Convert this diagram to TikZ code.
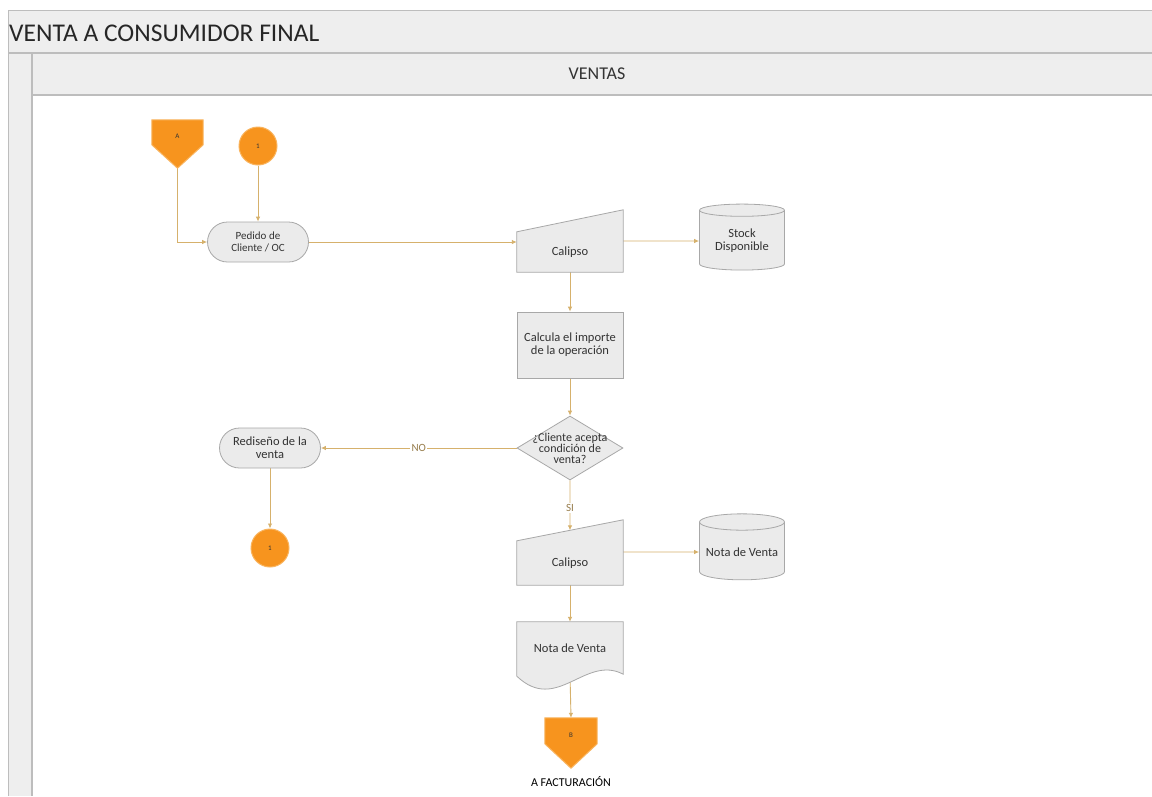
\documentclass[tikz,border=0pt]{standalone}
\usepackage{fontspec}
\setmainfont{Carlito}
\usetikzlibrary{shapes.misc,shapes.geometric,arrows.meta,calc}

\definecolor{bandfill}{HTML}{EEEEEE}
\definecolor{bandline}{HTML}{BDBDBD}
\definecolor{boxfill}{HTML}{EBEBEB}
\definecolor{boxline}{HTML}{A8A8A8}
\definecolor{flow}{HTML}{D6B16C}
\definecolor{conn}{HTML}{F7941E}
\definecolor{connline}{HTML}{F9B45E}
\definecolor{ink}{HTML}{333333}

\pgfdeclarelayer{backdrop}
\pgfdeclarelayer{edges}
\pgfdeclarelayer{bodies}
\pgfsetlayers{backdrop,edges,bodies,main}

\tikzset{
  x=1pt, y=-1pt,
  nodefont/.style={font=\fontsize{12.5}{13}\selectfont, text=ink},
  flowline/.style={draw=flow, line width=0.9pt, -{Latex[length=5pt,width=4.5pt]}},
  bodystyle/.style={draw=boxline, fill=boxfill, line width=0.8pt},
  terminal/.style={rounded rectangle, bodystyle, nodefont, align=center,
    minimum width=105pt, minimum height=40pt, inner sep=2pt},
  procbox/.style={rectangle, bodystyle, nodefont, align=center,
    minimum width=106pt, minimum height=66pt, inner sep=1pt},
  decision/.style={diamond, bodystyle, minimum width=106pt, minimum height=64pt,
    inner sep=0pt},
  store/.style={cylinder, shape border rotate=90, aspect=0.22, bodystyle, nodefont,
    align=center, minimum width=85pt, minimum height=66pt, inner sep=1pt},
  slot/.style={rectangle, draw=none, nodefont, align=center, inner sep=0pt},
  connector/.style={circle, fill=conn, draw=connline, line width=1pt,
    minimum size=38pt, inner sep=0pt, font=\fontsize{7}{8}\selectfont, text=ink},
  pagebody/.style={fill=conn, draw=connline, line width=1pt},
  edgelabel/.style={fill=white, inner sep=1.5pt, font=\fontsize{11}{11}\selectfont, text=flow!70!black}
}

\begin{document}
\begin{tikzpicture}
\useasboundingbox (0,0) rectangle (1152,796);

% pool title band, lane header and left strip
\begin{pgfonlayer}{backdrop}
\fill[white] (0,0) rectangle (1152,796);
\fill[bandfill] (8,10) rectangle (1152,52);
\fill[bandfill] (8,52) rectangle (32,796);
\fill[bandfill] (32,52) rectangle (1152,95);
\draw[bandline, line width=1pt] (8,10) -- (1152,10);
\draw[bandline, line width=2pt] (8,53) -- (1152,53);
\draw[bandline, line width=2pt] (32,95) -- (1152,95);
\draw[bandline, line width=1pt] (8,10) -- (8,796);
\draw[bandline, line width=1.5pt] (32,53) -- (32,796);
\end{pgfonlayer}
\node[anchor=west, inner sep=0pt, font=\fontsize{25.5}{26}\selectfont, text=black!85]
  (title) at (9,33) {VENTA A CONSUMIDOR FINAL};
\node[font=\fontsize{18}{19}\selectfont, text=black!80] (lane) at (597,74) {VENTAS};

% off-page connector at the top
\node[slot, minimum width=51pt, minimum height=48pt] (offin) at (177.5,144) {};
\begin{pgfonlayer}{bodies}
\path[pagebody] (offin.north west) -- (offin.north east) -- ($(offin.north east)+(0,25)$)
  -- (offin.south) -- ($(offin.north west)+(0,25)$) -- cycle;
\end{pgfonlayer}
\node[font=\fontsize{7}{8}\selectfont, text=ink] at ($(offin.center)+(0,-8)$) {A};

\node[connector] (c1) at (258,146) {1};

\node[terminal, font=\fontsize{11}{12}\selectfont] (pedido) at (258,242) {Pedido de\\Cliente / OC};

% manual input: Calipso
\node[slot, minimum width=106pt, minimum height=40pt] (cal1) at (570,252) {Calipso};
\begin{pgfonlayer}{bodies}
\path[bodystyle] (cal1.south west) -- (cal1.south east) -- ($(cal1.north east)+(0,-22)$)
  -- (cal1.north west) -- cycle;
\end{pgfonlayer}

\node[store] (stock) at (742,241) {Stock\\Disponible};

\node[procbox] (calc) at (570,345) {Calcula el importe\\de la operación};

\node[decision] (dec) at (570,448) {};
\node[align=center, font=\fontsize{12}{11}\selectfont, text=ink] at (dec.center) {¿Cliente acepta\\condición de\\venta?};

\node[terminal] (redis) at (270,448) {Rediseño de la\\venta};
\node[connector] (c2) at (270,548) {1};

% manual input: Calipso (second)
\node[slot, minimum width=106pt, minimum height=44pt] (cal2) at (570,563) {Calipso};
\begin{pgfonlayer}{bodies}
\path[bodystyle] (cal2.south west) -- (cal2.south east) -- ($(cal2.north east)+(0,-21)$)
  -- (cal2.north west) -- cycle;
\end{pgfonlayer}
\coordinate (cal2top) at ($(cal2.north west)!0.5!(cal2.north east)+(0,-10.5)$);

\node[store] (nota) at (742,552) {Nota de Venta};

% document: Nota de Venta
\node[slot, minimum width=106pt, minimum height=52pt] (doc) at (570,648) {Nota de Venta};
\begin{pgfonlayer}{bodies}
\path[bodystyle] (doc.north west) -- (doc.north east) -- ($(doc.south east)+(0,0)$)
  .. controls ($(doc.south east)+(-38,-20)$) and ($(doc.south west)+(40,40)$) .. ($(doc.south west)+(0,2)$)
  -- cycle;
\end{pgfonlayer}

% off-page connector at the bottom
\node[slot, minimum width=52pt, minimum height=50pt] (offout) at (571,743) {};
\begin{pgfonlayer}{bodies}
\path[pagebody] (offout.north west) -- (offout.north east) -- ($(offout.north east)+(0,26)$)
  -- (offout.south) -- ($(offout.north west)+(0,26)$) -- cycle;
\end{pgfonlayer}
\node[font=\fontsize{7}{8}\selectfont, text=ink] at ($(offout.center)+(0,-8)$) {B};
\node[font=\fontsize{12}{12}\selectfont, text=black] (fact) at (571,782) {A FACTURACIÓN};

% flow lines
\begin{pgfonlayer}{edges}
\draw[flowline] (offin.south) |- (pedido.west);
\draw[flowline] (c1.south) -- (pedido.north);
\draw[flowline] (pedido.east) -- (pedido.east -| cal1.west);
\draw[flowline] (cal1.east |- stock.center) -- (stock.west);
\draw[flowline] (cal1.south) -- (calc.north);
\draw[flowline] (calc.south) -- (dec.north);
\draw[flowline] (dec.west) -- node[edgelabel] {NO} (redis.east);
\draw[flowline] (redis.south) -- (c2.north);
\draw[flowline] (dec.south) -- node[edgelabel, pos=0.55] {SI} (cal2top);
\draw[flowline] (cal2.east |- nota.center) -- (nota.west);
\draw[flowline] (cal2.south) -- (doc.north);
\draw[flowline] (doc.south) -- (offout.north);
\end{pgfonlayer}
\end{tikzpicture}
\end{document}
